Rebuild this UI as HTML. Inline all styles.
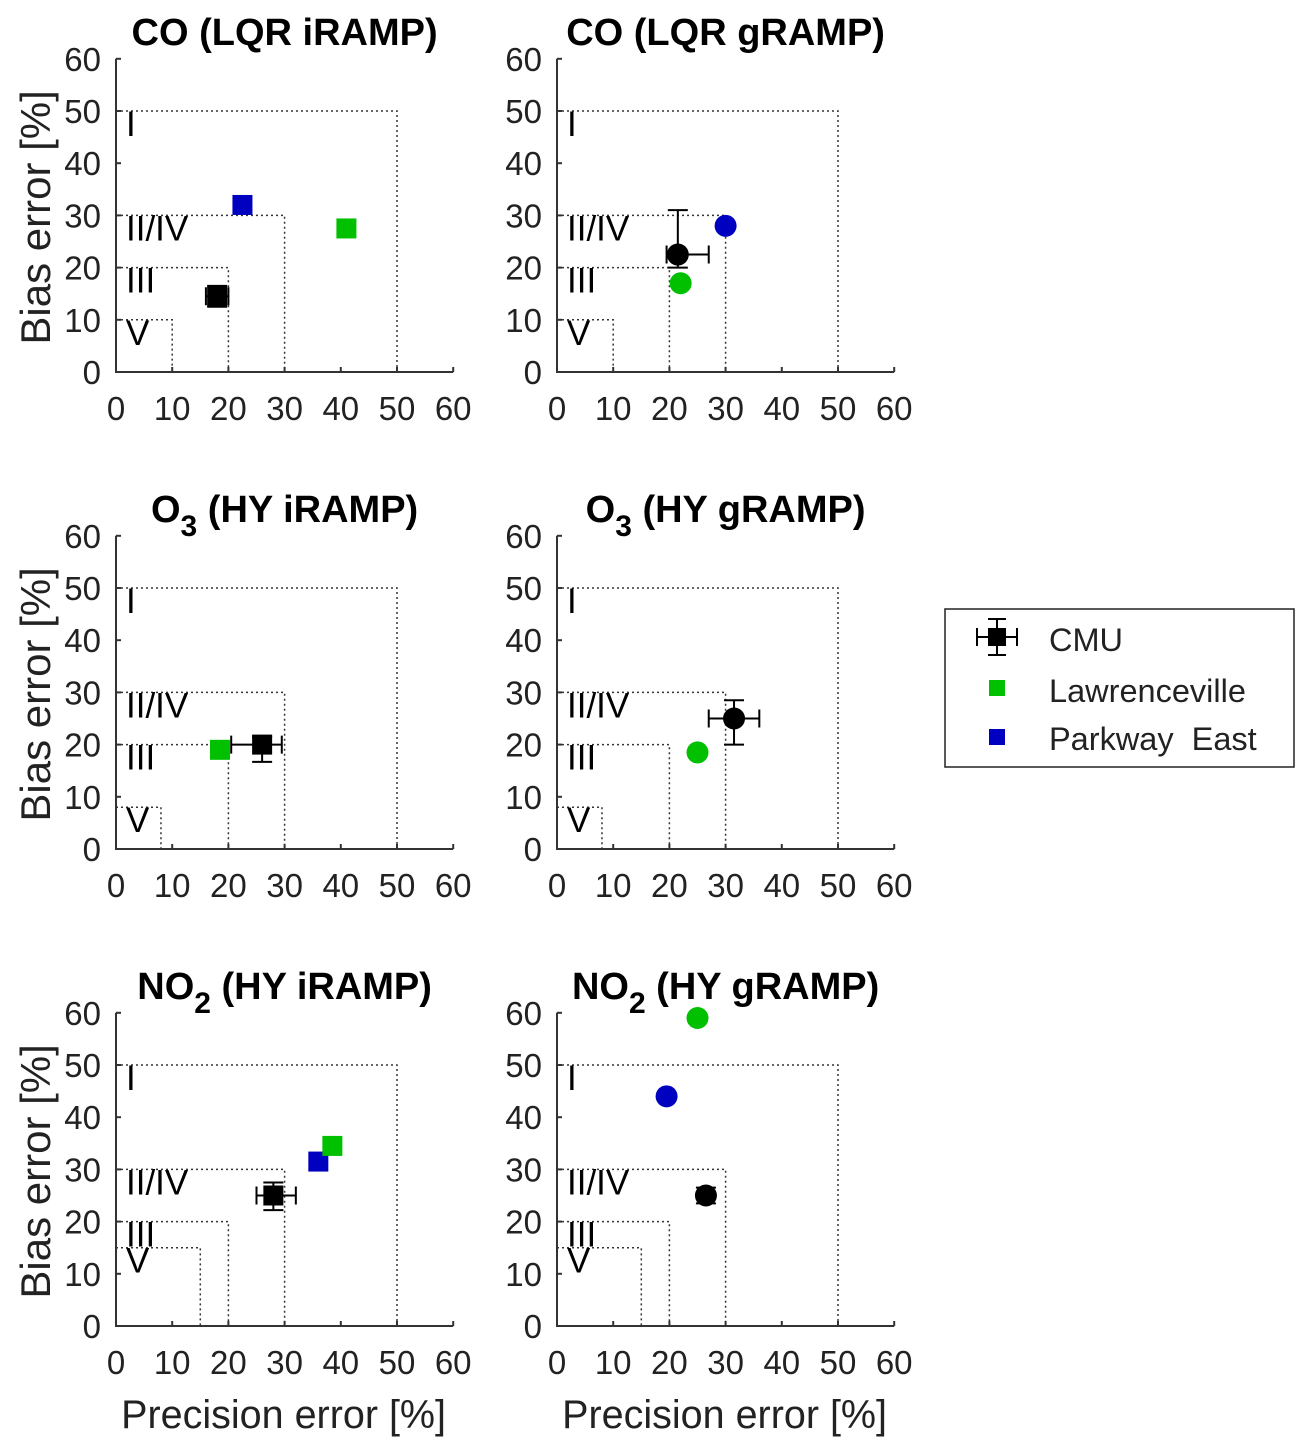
<!DOCTYPE html>
<html><head><meta charset="utf-8"><style>body{margin:0;background:#fff}svg{display:block;font-family:"Liberation Sans",sans-serif}</style></head>
<body>
<svg id="fig" width="1313" height="1455"></svg>
<script>
const titles=[["CO (LQR iRAMP)",""],["CO (LQR gRAMP)",""],["O","3"," (HY iRAMP)"],["O","3"," (HY gRAMP)"],["NO","2"," (HY iRAMP)"],["NO","2"," (HY gRAMP)"]];
const zoneV=[10,10,8,8,15,15];
const ticks=[0,10,20,30,40,50,60];
// points: [x, y, xlo, xhi, ylo, yhi] (CMU), others [x,y]
const cmu=[[18,14.5,16,20,12.5,16.5],[21.5,22.5,19.5,27,20,31],[26,20,20.5,29.5,16.7,21.5],[31.5,25,27,36,20,28.5],[28,25,25,32,22.2,27.5],[26.5,25,25.5,27.5,23.5,26.5]];
const lawr=[[41,27.5],[22,17],[18.5,19],[25,18.5],[38.5,34.5],[25,59]];
const park=[[22.5,32],[30,28],null,null,[36,31.5],[19.5,44]];
const circle=[false,true,false,true,false,true];
const ox=[116,557], oy=[372,849,1326], sx=5.62, sy=5.22;
const S=document.getElementById('fig'),NS="http://www.w3.org/2000/svg";
function el(t,a,p){const e=document.createElementNS(NS,t);for(const k in a)e.setAttribute(k,a[k]);(p||S).appendChild(e);return e;}
for(let i=0;i<6;i++){
 const c=i%2,r=Math.floor(i/2),x0=ox[c],y0=oy[r];
 const X=v=>x0+v*sx,Y=v=>y0-v*sy;
 const g=el('g',{});
 
 
 [[50,50],[30,30],[20,20],[zoneV[i],zoneV[i]]].forEach(z=>{
  const p=el('path',{d:`M${X(0)} ${Y(z[1])}H${X(z[0])}V${Y(0)}`,fill:'none',stroke:'#333','stroke-width':1.5,'stroke-dasharray':'2 3'},g);
  
  
 });
 [["I",50],["II/IV",30],["III",20],["V",zoneV[i]]].forEach(z=>{
  const t=el('text',{x:X(0)+10,y:Y(z[1])+25,'font-size':35,fill:'#000'},g);t.textContent=z[0];
  
  
 });
 const ax=el('path',{d:`M${X(0)} ${Y(60)}V${Y(0)}H${X(60)}`,fill:'none',stroke:'#333','stroke-width':2},g);
 
 
 ticks.forEach(t=>{
  el('line',{x1:X(t),x2:X(t),y1:Y(0),y2:Y(0)-5,stroke:'#333','stroke-width':2},g);
  el('line',{x1:X(0),x2:X(0)+5,y1:Y(t),y2:Y(t),stroke:'#333','stroke-width':2},g);
  const a=el('text',{x:X(t),y:Y(0)+48,'font-size':33,'text-anchor':'middle',fill:'#222'},g);a.textContent=t;
  
  
  const b=el('text',{x:X(0)-15,y:Y(t)+12,'font-size':33,'text-anchor':'end',fill:'#222'},g);b.textContent=t;
  
  
 });
 const tt=el('text',{x:X(30),y:y0-327,'font-size':38,'font-weight':'bold','text-anchor':'middle'},g);
 
 
 const ti=titles[i];
 if(ti.length===2){tt.textContent=ti[0];}else{
  el('tspan',{},tt).textContent=ti[0];
  el('tspan',{dy:14,'font-size':30},tt).textContent=ti[1];
  el('tspan',{dy:-14},tt).textContent=ti[2];
 }
 if(c===0){const yl=el('text',{transform:`translate(${X(0)-66},${Y(30)+2}) rotate(-90)`,'font-size':42,'text-anchor':'middle',fill:'#222'},g);yl.textContent='Bias error [%]';
  
  }
 if(r===2){const xl=el('text',{x:X(30)-1,y:Y(0)+102,'font-size':39.5,'text-anchor':'middle',fill:'#222'},g);xl.textContent='Precision error [%]';
  
  }
 function mark(p,col,name){
  let m;
  if(circle[i]) m=el('circle',{cx:X(p[0]),cy:Y(p[1]),r:11,fill:col},g);
  else m=el('rect',{x:X(p[0])-10,y:Y(p[1])-10,width:20,height:20,fill:col},g);
  
  
 }
 if(park[i])mark(park[i],'#0000c0','parkway-east-point');
 mark(lawr[i],'#00c000','lawrenceville-point');
 const p=cmu[i];
 const eb=el('path',{d:`M${X(p[2])} ${Y(p[1])}H${X(p[3])}M${X(p[2])} ${Y(p[1])-9}v18M${X(p[3])} ${Y(p[1])-9}v18M${X(p[0])} ${Y(p[4])}V${Y(p[5])}M${X(p[0])-10} ${Y(p[4])}h20M${X(p[0])-10} ${Y(p[5])}h20`,stroke:'#000','stroke-width':2,fill:'none'},g);
 
 
 mark(p,'#000','cmu-point');
}
const lg=el('g',{});


el('rect',{x:945,y:609,width:349,height:158,fill:'#fff',stroke:'#222','stroke-width':1.5},lg);
el('path',{d:'M977 637H1017M977 628v18M1017 628v18M997 619v36M988 619h18M988 655h18',stroke:'#000','stroke-width':2},lg);
el('rect',{x:988,y:628,width:18,height:18,fill:'#000'},lg);
el('rect',{x:989,y:680,width:16,height:16,fill:'#00c000'},lg);
el('rect',{x:989,y:729,width:16,height:16,fill:'#0000c0'},lg);
[["CMU",651],["Lawrenceville",702],["Parkway  East",750]].forEach(l=>{
 const t=el('text',{x:1049,y:l[1],'font-size':32.5,fill:'#222'},lg);t.textContent=l[0];t.style.whiteSpace='pre';
 
 
});
</script>
</body></html>
